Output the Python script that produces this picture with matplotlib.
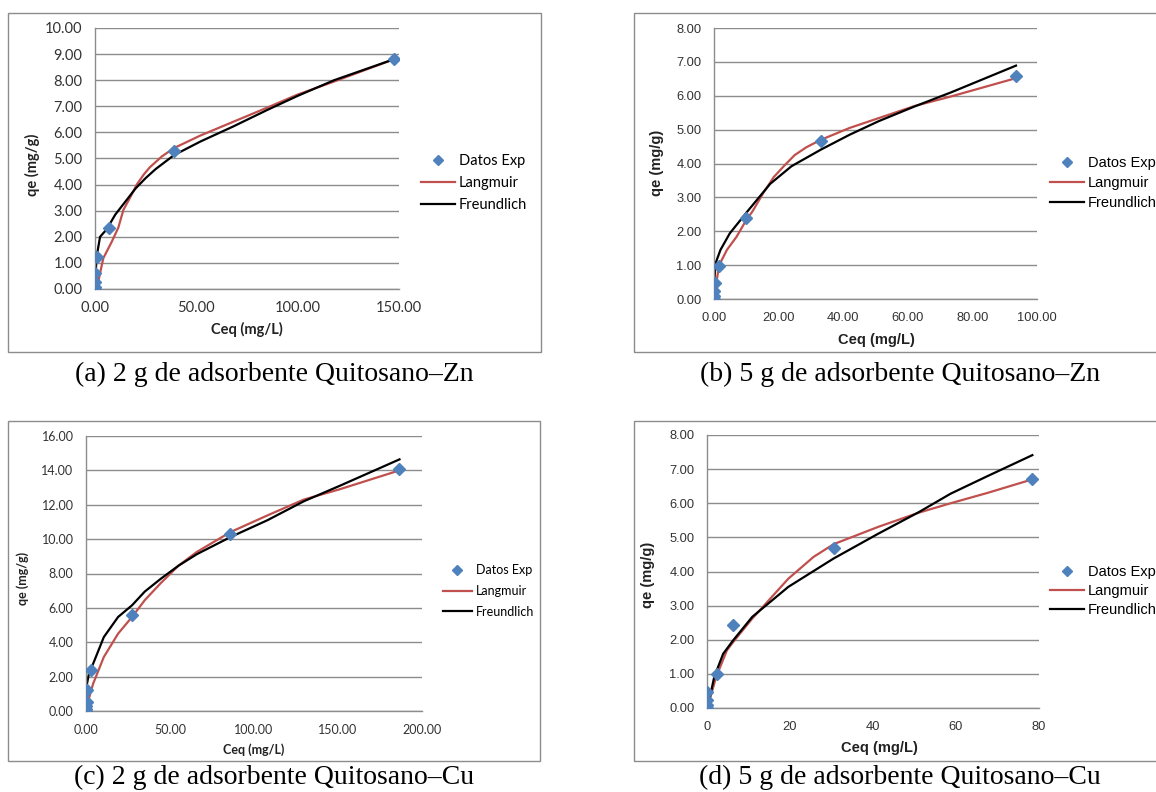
import matplotlib
matplotlib.use("Agg")
import matplotlib.pyplot as plt
from matplotlib.patches import Rectangle
from matplotlib.ticker import FormatStrFormatter

W, H = 1156, 792

# (a) 2 g Quitosano-Zn
a_exp_x = [0, 0, 0, 0.1, 1.0, 7.0, 39.0, 147.4]
a_exp_y = [0.0, 0.08, 0.25, 0.6, 1.22, 2.32, 5.3, 8.8]
a_lang_x = [1.6, 4.1, 8.2, 11.5, 14.0, 17.3, 20.6, 24, 27, 33, 39, 52, 68, 85, 100, 118, 147.4]
a_lang_y = [0.28, 1.18, 1.8, 2.35, 3.03, 3.5, 4.0, 4.38, 4.66, 5.08, 5.4, 5.88, 6.4, 6.95, 7.45, 7.95, 8.8]
a_freu_x = [0.1, 0.8, 2.5, 5.7, 10, 15.6, 20, 25, 30, 39, 52, 68, 85, 100, 118, 147.4]
a_freu_y = [0.3, 1.24, 2.0, 2.28, 2.85, 3.41, 3.85, 4.25, 4.6, 5.13, 5.65, 6.22, 6.86, 7.4, 8.0, 8.8]

# (b) 5 g Quitosano-Zn
b_exp_x = [0, 0, 0, 0.2, 1.6, 9.8, 33.1, 93.5]
b_exp_y = [0.0, 0.1, 0.25, 0.48, 0.97, 2.39, 4.66, 6.57]
b_lang_x = [0.7, 1.6, 4.0, 7.0, 9.8, 12.0, 15.2, 18.5, 21.9, 25, 28.6, 33.1, 42, 51, 62.2, 73.4, 93.5]
b_lang_y = [0.47, 1.0, 1.45, 1.84, 2.3, 2.6, 3.12, 3.6, 3.95, 4.25, 4.48, 4.7, 5.05, 5.34, 5.7, 5.98, 6.52]
b_freu_x = [0.05, 0.5, 2.0, 4.9, 10.3, 17.4, 24, 33.1, 42, 51, 62, 73.4, 93.5]
b_freu_y = [0.47, 1.06, 1.45, 1.94, 2.58, 3.4, 3.92, 4.41, 4.85, 5.25, 5.68, 6.1, 6.89]

# (c) 2 g Quitosano-Cu
c_exp_x = [0, 0, 0, 0.3, 0.6, 3.2, 27.4, 86.0, 186.6]
c_exp_y = [0.0, 0.1, 0.28, 0.55, 1.24, 2.4, 5.58, 10.32, 14.08]
c_lang_x = [1.1, 4.25, 10.6, 19.1, 27.4, 35, 44.6, 55, 65.9, 86, 108, 129.6, 151, 186.6]
c_lang_y = [0.52, 1.59, 3.14, 4.5, 5.47, 6.45, 7.45, 8.45, 9.25, 10.41, 11.38, 12.3, 12.9, 14.0]
c_freu_x = [0.4, 2.0, 4.25, 10.6, 19.1, 27.4, 35, 44.6, 55, 65.9, 86, 108, 129.6, 151, 186.6]
c_freu_y = [1.49, 2.3, 2.75, 4.3, 5.47, 6.15, 6.95, 7.7, 8.45, 9.12, 10.12, 11.1, 12.2, 13.1, 14.64]

# (d) 5 g Quitosano-Cu
d_exp_x = [0, 0, 0, 0, 2.5, 6.35, 30.5, 78.4]
d_exp_y = [0.0, 0.08, 0.22, 0.47, 0.99, 2.42, 4.70, 6.70]
d_lang_x = [0.7, 2.2, 4.8, 6.35, 10.9, 19.6, 25.7, 30.5, 41.3, 51.2, 58.7, 67.5, 78.4]
d_lang_y = [0.27, 0.91, 1.69, 1.94, 2.62, 3.79, 4.43, 4.8, 5.31, 5.73, 6.0, 6.3, 6.7]
d_freu_x = [0.7, 1.74, 3.9, 6.35, 10.9, 19.6, 30.5, 41.3, 51.2, 58.7, 67.5, 78.4]
d_freu_y = [0.32, 0.91, 1.59, 1.99, 2.67, 3.55, 4.38, 5.11, 5.75, 6.28, 6.79, 7.41]

labels = ["Datos Exp", "Langmuir", "Freundlich"]
captions = ["(a) 2 g de adsorbente Quitosano\u2013Zn", "(b) 5 g de adsorbente Quitosano\u2013Zn",
            "(c) 2 g de adsorbente Quitosano\u2013Cu", "(d) 5 g de adsorbente Quitosano\u2013Cu"]

BLUE = "#4F81BD"
RED = "#C0504D"
GRAY = "#8C8C8C"

fig = plt.figure(figsize=(W / 100, H / 100), dpi=100)


def fx(x):
    return x / W


def fy(y):
    return 1 - y / H


def panel(plot, box, exp, lang, freu, xmax, xstep, ymax, ystep, xfmt, font, fs, lfs,
          leg, lspace, xl, yl, caption, cap):
    x0, y0, x1, y1 = box
    fig.patches.append(Rectangle((fx(x0), fy(y1)), fx(x1 - x0), (y1 - y0) / H,
                                 transform=fig.transFigure, fill=False, ec=GRAY, lw=1.0))
    px0, py0, px1, py1 = plot
    ax = fig.add_axes([fx(px0), fy(py1), fx(px1 - px0), (py1 - py0) / H])
    ax.plot(exp[0], exp[1], ls="none", marker="D", ms=6.5, color=BLUE, label=labels[0], zorder=3)
    ax.plot(lang[0], lang[1], color=RED, lw=1.6, label=labels[1], zorder=2)
    ax.plot(freu[0], freu[1], color="black", lw=1.6, label=labels[2], zorder=2)
    ax.set_xlim(0, xmax)
    ax.set_ylim(0, ymax)
    ax.set_xticks([i * xstep for i in range(int(round(xmax / xstep)) + 1)])
    ax.set_yticks([i * ystep for i in range(int(round(ymax / ystep)) + 1)])
    ax.xaxis.set_major_formatter(FormatStrFormatter(xfmt))
    ax.yaxis.set_major_formatter(FormatStrFormatter("%.2f"))
    ax.grid(axis="y", color=GRAY, lw=1.0)
    ax.set_axisbelow(True)
    for s in ["top", "right"]:
        ax.spines[s].set_visible(False)
    for s in ["left", "bottom"]:
        ax.spines[s].set_color(GRAY)
        ax.spines[s].set_linewidth(1.0)
    ax.tick_params(length=0, labelsize=fs, labelcolor="#333333", pad=9)
    for t in ax.get_xticklabels() + ax.get_yticklabels():
        t.set_fontfamily(font)
    fig.text(fx(xl[0]), fy(xl[1]), "Ceq (mg/L)", ha="center", va="center",
             fontsize=lfs, fontweight="bold", family=font, color="#222222")
    fig.text(fx(yl[0]), fy(yl[1]), "qe (mg/g)", ha="center", va="center", rotation=90,
             fontsize=lfs, fontweight="bold", family=font, color="#222222")
    ax.legend(loc="center left", bbox_to_anchor=(fx(leg[0]), fy(leg[1])),
              bbox_transform=fig.transFigure, frameon=False, borderpad=0, borderaxespad=0,
              handlelength=2.3, handletextpad=0.3, labelspacing=lspace, numpoints=1,
              markerscale=0.8, prop={"family": font, "size": lfs})
    fig.text(fx(cap[0]), fy(cap[1]), caption, ha="center", va="center",
             fontsize=20, family="Liberation Serif", color="black")
    return ax


panel((95, 28, 399, 289), (8, 13, 541, 352),
      (a_exp_x, a_exp_y), (a_lang_x, a_lang_y), (a_freu_x, a_freu_y),
      150, 50, 10, 1, "%.2f", "Lato", 10.5, 10.5,
      (421, 183), 0.55, (247, 329), (32, 165), captions[0], (274, 374))

panel((714, 28, 1037, 299), (634, 13, 1200, 352),
      (b_exp_x, b_exp_y), (b_lang_x, b_lang_y), (b_freu_x, b_freu_y),
      100, 20, 8, 1, "%.2f", "Liberation Sans", 9.3, 10.5,
      (1050, 183), 0.4, (876, 340), (657, 163), captions[1], (900, 374))

panel((86, 436, 422, 711), (8, 421, 540, 761),
      (c_exp_x, c_exp_y), (c_lang_x, c_lang_y), (c_freu_x, c_freu_y),
      200, 50, 16, 2, "%.2f", "Lato", 9, 9,
      (443, 591), 0.7, (254, 750), (23, 578), captions[2], (274, 777))

panel((707, 435, 1039, 708), (634, 421, 1200, 761),
      (d_exp_x, d_exp_y), (d_lang_x, d_lang_y), (d_freu_x, d_freu_y),
      80, 20, 8, 1, "%d", "Liberation Sans", 9.3, 10.5,
      (1050, 591), 0.35, (879, 748), (648, 575), captions[3], (900, 777))

fig.savefig("out.png", dpi=100, facecolor="white")
